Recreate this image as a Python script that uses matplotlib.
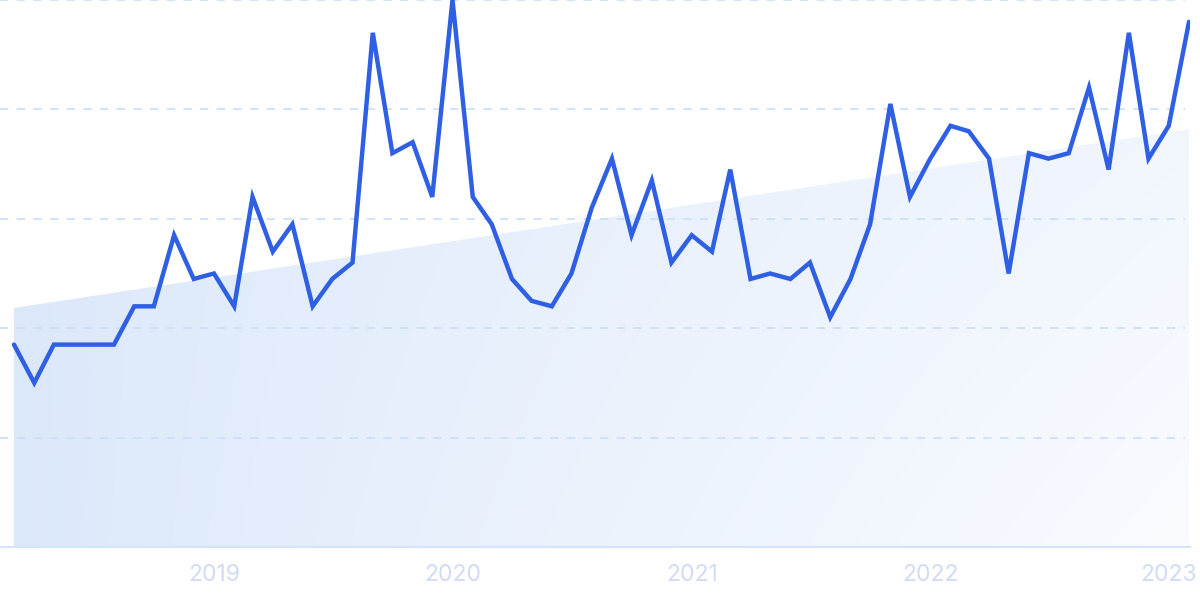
import numpy as np
import pandas as pd
import matplotlib
matplotlib.use("Agg")
import matplotlib.pyplot as plt
import matplotlib.dates as mdates
from matplotlib.colors import LinearSegmentedColormap

plt.rcParams['font.family'] = ['Inter', 'DejaVu Sans']

# ---- data ----
months = pd.date_range("2018-03-01", "2023-02-01", freq="MS")
values = [37, 30, 37, 37, 37, 37, 44, 44, 57, 49, 50, 44,
          64, 54, 59, 44, 49, 52, 94, 72, 74, 64, 100, 64,
          59, 49, 45, 44, 50, 62, 71, 57, 67, 52, 57, 54,
          69, 49, 50, 49, 52, 42, 49, 59, 81, 64, 71, 77,
          76, 71, 50, 72, 71, 72, 84, 69, 94, 71, 77, 96]
trend_start = 43.7
trend_end = 76.4
year_ticks = pd.to_datetime(["2019-01-01", "2020-01-01", "2021-01-01",
                             "2022-01-01", "2023-01-01"])
year_labels = ["2019", "2020", "2021", "2022", "2023"]
grid_levels = [20, 40, 60, 80, 100]

W, H = 1200, 599
fig = plt.figure(figsize=(W / 100, H / 100), dpi=100)
ax_left_px, ax_right_px = 0, 1190
first_px, last_px = 14, 1189
bottom_px = 547
ax = fig.add_axes([ax_left_px / W, (H - bottom_px) / H,
                   (ax_right_px - ax_left_px) / W, bottom_px / H])

x = mdates.date2num(months)
span = x[-1] - x[0]
ppd = (last_px - first_px) / span
xmin = x[0] - (first_px - ax_left_px) / ppd
xmax = x[-1] + (ax_right_px - last_px) / ppd
ax.set_xlim(xmin, xmax)
ax.set_ylim(0, 100)

# trend area with gradient
tx = np.array([x[0], x[-1], x[-1], x[0]])
ty = np.array([trend_start, trend_end, 0, 0])
poly = ax.fill(tx, ty, facecolor='none', edgecolor='none', zorder=1)[0]
cmap = LinearSegmentedColormap.from_list("g", ["#dbe8fa", "#f9fbff"])
nx, ny = 300, 150
gx, gy = np.meshgrid(np.linspace(0, 1, nx), np.linspace(0, 1, ny))
grad = (gx * (0.6 + 0.4 * gy)) ** 0.8
im = ax.imshow(grad, extent=[x[0], x[-1], 0, 100], cmap=cmap, aspect='auto',
               origin='upper', zorder=1, interpolation='bilinear', vmin=0, vmax=1)
ax.set_xlim(xmin, xmax)
ax.set_ylim(0, 100)
im.set_clip_path(poly)

# grid
for g in grid_levels:
    ax.axhline(g, xmax=0.996, color='#c8def9', lw=1.2, ls=(0, (5, 5)),
               zorder=2, clip_on=False)
ax.axhline(0, color='#d3e5fa', lw=1.6, zorder=2, clip_on=False)

# main line
ax.plot(x, values, color='#2f60e3', lw=3.2, solid_joinstyle='miter',
        solid_capstyle='round', zorder=3)

for s in ax.spines.values():
    s.set_visible(False)
ax.set_yticks([])
ax.set_xticks(mdates.date2num(year_ticks))
ax.set_xticklabels(year_labels)
ax.tick_params(axis='x', length=0, pad=12, labelsize=16.5, labelcolor='#d2dbf5')
ax.set_facecolor('white')

fig.savefig("out.png", dpi=100)
